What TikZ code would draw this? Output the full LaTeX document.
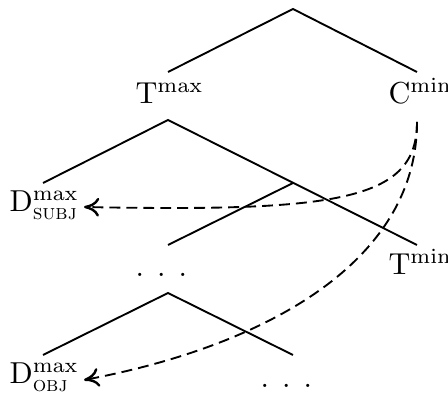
\documentclass[tikz,border=0pt]{standalone}
\usepackage{amsmath}
\usetikzlibrary{arrows.meta}
\begin{document}
\begin{tikzpicture}[x=0.33pt,y=-0.33pt,
  branch/.style={line width=0.62pt},
  mov/.style={line width=0.62pt,dash pattern=on 3.6pt off 2pt,-{To[length=5pt,width=6.2pt,line width=0.8pt]}},
  lbl/.style={inner sep=0pt,anchor=base west}]
\useasboundingbox (0,0) rectangle (448,396);
% tree points
\coordinate (root) at (293,9);
\coordinate (tmaxTop) at (168,72);
\coordinate (cminTop) at (417,72);
\coordinate (tbar) at (168,120);
\coordinate (dsubjTop) at (43,183);
\coordinate (tminTop) at (417,245);
\coordinate (mid) at (293,183);
\coordinate (dotsTop) at (168,245);
\coordinate (vbar) at (168,293);
\coordinate (dobjTop) at (43,355);
\coordinate (dotsbTop) at (293,355);
% labels
\node[lbl] (tmax) at (135,104) {$\mathrm{T}^{\mathrm{max}}$};
\node[lbl] (cmin) at (388,104) {$\mathrm{C}^{\mathrm{min}}$};
\node[lbl] (dsubj) at (9,212) {$\mathrm{D}^{\mathrm{max}}_{\mbox{\scriptsize\textsc{subj}}}$};
\node[lbl] (tmin) at (388,275) {$\mathrm{T}^{\mathrm{min}}$};
\node[lbl] (dots) at (135,277) {.\hspace{4.3pt}.\hspace{4.3pt}.};
\node[lbl] (dobj) at (9,384) {$\mathrm{D}^{\mathrm{max}}_{\mbox{\scriptsize\textsc{obj}}}$};
\node[lbl] (dotsb) at (260,388) {.\hspace{4.3pt}.\hspace{4.3pt}.};
% branches
\draw[branch] (tmaxTop) -- (root) -- (cminTop);
\draw[branch] (dsubjTop) -- (tbar) -- (tminTop);
\draw[branch] (mid) -- (dotsTop);
\draw[branch] (dobjTop) -- (vbar) -- (dotsbTop);
% movement arrows
\coordinate (cminFoot) at (417,122);
\coordinate (subjTip) at (84,207);
\coordinate (objTip) at (84,380);
\draw[mov] (cminFoot) .. controls (417,200) and (340,212) .. (subjTip);
\draw[mov] (cminFoot) .. controls (417,260) and (270,345) .. (objTip);
\end{tikzpicture}
\end{document}
